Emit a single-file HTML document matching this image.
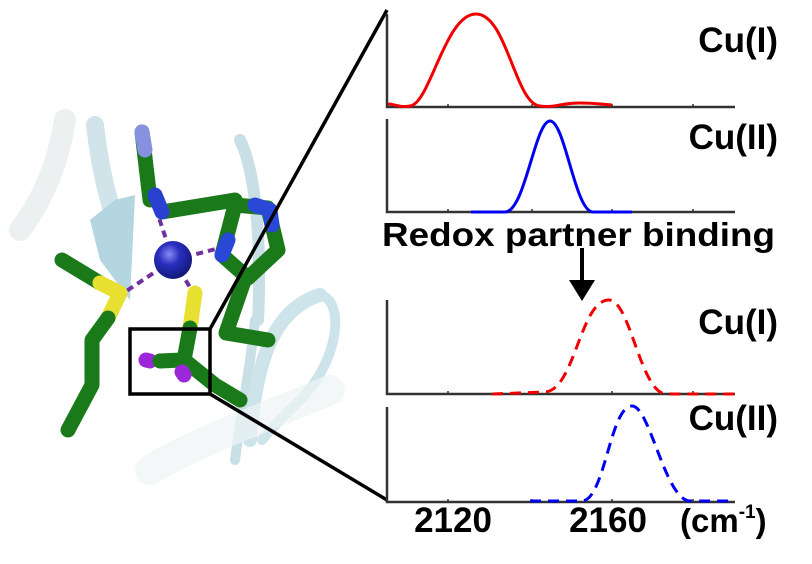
<!DOCTYPE html>
<html><head><meta charset="utf-8"><style>
body{margin:0;background:#fff;width:812px;height:564px;overflow:hidden}
svg{display:block}
text{font-family:"Liberation Sans",Arial,sans-serif;font-weight:bold;fill:#000}
</style></head><body>
<svg width="812" height="564" viewBox="0 0 812 564" xmlns="http://www.w3.org/2000/svg">
<defs>
<radialGradient id="cu" cx="0.4" cy="0.35" r="0.7"><stop offset="0" stop-color="#8a8cf0"/><stop offset="0.4" stop-color="#2a2fc0"/><stop offset="1" stop-color="#101670"/></radialGradient>
</defs>
<!-- ribbons -->
<g fill="none" stroke-linecap="round">
<path d="M20,230 C50,190 60,150 65,120" stroke="#dfe6e8" stroke-width="22" opacity="0.6"/>
<path d="M95,125 C100,170 110,210 120,230" stroke="#c6dde3" stroke-width="18" opacity="0.8"/>
<path d="M240,140 C255,170 262,240 258,320" stroke="#c9dfe6" stroke-width="12"/>
<path d="M255,320 C250,370 240,420 235,460" stroke="#c9dfe6" stroke-width="10"/>
<path d="M250,440 C255,370 270,310 320,295" stroke="#cde4eb" stroke-width="14"/>
<path d="M320,295 C345,300 340,360 300,400 C280,420 270,430 262,440" stroke="#cde4eb" stroke-width="10"/>
<path d="M150,470 C200,440 260,420 330,390" stroke="#eef3f5" stroke-width="30" opacity="0.7"/>
</g>
<polygon points="90,220 115,200 135,195 130,300 100,260" fill="#b3d6e0"/>
<!-- dashed coordination -->
<g stroke="#7030a0" stroke-width="4" stroke-dasharray="7,5" fill="none">
<line x1="173" y1="260" x2="158" y2="215"/><line x1="173" y1="260" x2="220" y2="248"/>
<line x1="173" y1="260" x2="125" y2="292"/><line x1="173" y1="260" x2="193" y2="292"/>
</g>
<!-- sticks -->
<g fill="none" stroke-linecap="round" stroke-linejoin="round" stroke-width="15">
<path d="M142,132 L150,200" stroke="#1a7a1a"/>
<path d="M142,132 L145,150" stroke="#8890e0"/>
<path d="M162,212 L235,200" stroke="#1a7a1a"/>
<path d="M155,195 L162,212" stroke="#2a40d0"/>
<path d="M235,205 L268,208 L278,250 L248,278 L222,255 Z" stroke="#1a7a1a"/>
<path d="M255,205 L270,210 L272,225" stroke="#2a48d8"/>
<path d="M222,255 L228,240" stroke="#2a48d8"/>
<path d="M245,278 L226,333 L268,340" stroke="#1a7a1a"/>
<path d="M62,260 L100,283" stroke="#1a7a1a"/>
<path d="M100,283 L120,293 L108,318" stroke="#e8e030"/>
<path d="M108,318 L92,340 L92,385 L68,430" stroke="#1a7a1a"/>
<path d="M195,293 L190,328" stroke="#e8e030"/>
<path d="M190,328 L184,360 L215,385 L240,400" stroke="#1a7a1a"/>
<path d="M146,360 L150,361" stroke="#9a28d8"/>
<path d="M160,361 L182,360" stroke="#1a7a1a"/>
<path d="M182,372 L184,375" stroke="#9a28d8"/>
</g>
<circle cx="173" cy="260" r="19" fill="url(#cu)"/>
<rect x="130" y="329" width="80" height="65" fill="none" stroke="#000" stroke-width="3.5"/>
<line x1="210" y1="329" x2="387" y2="10" stroke="#000" stroke-width="3.5"/>
<line x1="210" y1="394" x2="387" y2="500" stroke="#000" stroke-width="3.5"/>
<!-- axes -->
<g stroke="#333" stroke-width="2.5" fill="none">
<path d="M387,14 V107 H735"/><path d="M387,119 V212 H735"/>
<path d="M387,300 V394 H735"/><path d="M387,407 V502 H735"/>
</g>
<g stroke="#333" stroke-width="1.5">
<path d="M448,107v-3M532,107v-3M612,107v-3M693,107v-3"/>
<path d="M448,212v-3M532,212v-3M612,212v-3M693,212v-3"/>
<path d="M448,394v-3M532,394v-3M612,394v-3M693,394v-3"/>
<path d="M448,502v-3M532,502v-3M612,502v-3M693,502v-3"/>
</g>
<g fill="none" stroke-width="3">
<path d="M388,104 C395,104 400,108 410,106 C430,104 445,14 476,14 C507,14 515,104 540,106 C555,108 560,103 580,103 C595,103 600,104 612,105" stroke="#f00000"/>
<path d="M471,212 L505,212 C525,212 535,121 550,121 C565,121 575,212 593,212 L632,212" stroke="#0000f0"/>
<path d="M492,394 L545,392 C575,390 580,300 609,300 C630,300 640,390 665,394 L735,394" stroke="#f00000" stroke-dasharray="11,7"/>
<path d="M530,501 L582,501 C605,500 610,406 632,406 C650,406 665,500 690,501 L735,501" stroke="#0000f0" stroke-dasharray="11,7"/>
</g>
<!-- arrow -->
<line x1="582" y1="248" x2="582" y2="282" stroke="#000" stroke-width="4"/>
<polygon points="569,280 595,280 582,301" fill="#000"/>
<text x="778" y="52" font-size="35" text-anchor="end">Cu(I)</text>
<text x="778" y="149" font-size="35" text-anchor="end">Cu(II)</text>
<text x="382" y="246" font-size="33" textLength="393" lengthAdjust="spacingAndGlyphs">Redox partner binding</text>
<text x="778" y="334" font-size="35" text-anchor="end">Cu(I)</text>
<text x="778" y="430" font-size="35" text-anchor="end">Cu(II)</text>
<text x="453" y="532" font-size="35" text-anchor="middle">2120</text>
<text x="608" y="532" font-size="35" text-anchor="middle">2160</text>
<text x="680" y="532" font-size="33">(cm<tspan font-size="19" dy="-14">-1</tspan><tspan dy="14">)</tspan></text>
</svg>
</body></html>
